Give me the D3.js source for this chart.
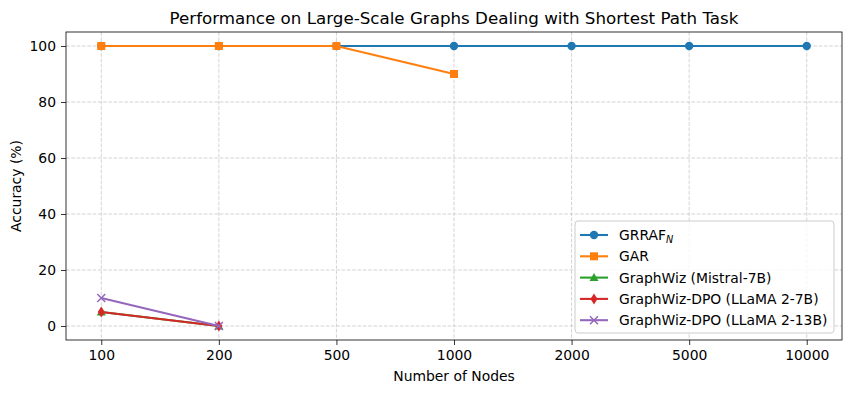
<!DOCTYPE html>
<html>
<head>
<meta charset="utf-8">
<script src="https://cdn.jsdelivr.net/npm/d3@7"></script>
<style>
  body { margin: 0; background: #fff; }
  text { font-family: "DejaVu Sans", sans-serif; fill: #000; }
</style>
</head>
<body>
<div id="chart"></div>
<script>
const categories = ['100', '200', '500', '1000', '2000', '5000', '10000'];
const grraf = [100, 100, 100, 100, 100, 100, 100];
const gar = [100, 100, 100, 90];
const graphwizMistral = [5, 0];
const dpo7b = [5, 0];
const dpo13b = [10, 0];
const yTicks = [0, 20, 40, 60, 80, 100];

const series = [
  { name: 'GRRAF', sub: 'N', values: grraf, color: '#1f77b4', marker: 'circle' },
  { name: 'GAR', values: gar, color: '#ff7f0e', marker: 'square' },
  { name: 'GraphWiz (Mistral-7B)', values: graphwizMistral, color: '#2ca02c', marker: 'triangle' },
  { name: 'GraphWiz-DPO (LLaMA 2-7B)', values: dpo7b, color: '#d62728', marker: 'diamond' },
  { name: 'GraphWiz-DPO (LLaMA 2-13B)', values: dpo13b, color: '#9467bd', marker: 'x' },
];

const width = 850, height = 393;
const margin = { top: 32, right: 8, bottom: 53, left: 66 };

const svg = d3.select('#chart').append('svg').attr('width', width).attr('height', height);

const x = d3.scaleLinear().domain([-0.3, categories.length - 1 + 0.3]).range([margin.left, width - margin.right]);
const y = d3.scaleLinear().domain([-5, 105]).range([height - margin.bottom, margin.top]);

// grid
const grid = svg.append('g').attr('stroke', '#c8c8c8').attr('stroke-dasharray', '3.7,1.6').attr('stroke-width', 0.8);
categories.forEach((c, i) => {
  grid.append('line').attr('x1', x(i)).attr('x2', x(i)).attr('y1', margin.top).attr('y2', height - margin.bottom);
});
yTicks.forEach((t) => {
  grid.append('line').attr('x1', margin.left).attr('x2', width - margin.right).attr('y1', y(t)).attr('y2', y(t));
});

// axes
const xAxis = d3.axisBottom(x).tickValues(d3.range(categories.length)).tickFormat((i) => categories[i]).tickSize(5).tickSizeOuter(0).tickPadding(5);
const yAxis = d3.axisLeft(y).tickValues(yTicks).tickSize(5).tickSizeOuter(0).tickPadding(5);

const gx = svg.append('g').attr('transform', `translate(0,${height - margin.bottom})`).call(xAxis);
const gy = svg.append('g').attr('transform', `translate(${margin.left},0)`).call(yAxis);
[gx, gy].forEach((g) => {
  g.select('.domain').remove();
  g.selectAll('.tick line').attr('stroke', '#000').attr('stroke-width', 0.8);
  g.selectAll('.tick text').style('font-size', '13.9px').attr('fill', '#000');
});

svg.append('rect')
  .attr('x', margin.left).attr('y', margin.top)
  .attr('width', width - margin.left - margin.right)
  .attr('height', height - margin.top - margin.bottom)
  .attr('fill', 'none').attr('stroke', '#000').attr('stroke-width', 0.8);

// markers
function drawMarker(g, type, color, cx, cy) {
  if (type === 'circle') {
    g.append('circle').attr('cx', cx).attr('cy', cy).attr('r', 4.2).attr('fill', color);
  } else if (type === 'square') {
    g.append('rect').attr('x', cx - 4).attr('y', cy - 4).attr('width', 8).attr('height', 8).attr('fill', color);
  } else if (type === 'triangle') {
    g.append('path').attr('d', `M${cx},${cy - 4.5}L${cx + 4.5},${cy + 3.5}L${cx - 4.5},${cy + 3.5}Z`).attr('fill', color);
  } else if (type === 'diamond') {
    g.append('path').attr('d', `M${cx},${cy - 5.5}L${cx + 3.5},${cy}L${cx},${cy + 5.5}L${cx - 3.5},${cy}Z`).attr('fill', color);
  } else if (type === 'x') {
    g.append('path').attr('d', `M${cx - 4},${cy - 4}L${cx + 4},${cy + 4}M${cx - 4},${cy + 4}L${cx + 4},${cy - 4}`)
      .attr('stroke', color).attr('stroke-width', 1.5).attr('fill', 'none');
  }
}

const line = d3.line().x((d, i) => x(i)).y((d) => y(d));

series.forEach((s) => {
  const g = svg.append('g');
  g.append('path').datum(s.values).attr('d', line).attr('fill', 'none').attr('stroke', s.color).attr('stroke-width', 2.1);
  s.values.forEach((v, i) => drawMarker(g, s.marker, s.color, x(i), y(v)));
});

// title and labels
svg.append('text').attr('x', (margin.left + width - margin.right) / 2).attr('y', 24)
  .attr('text-anchor', 'middle').style('font-size', '16.7px')
  .text('Performance on Large-Scale Graphs Dealing with Shortest Path Task');

svg.append('text').attr('x', (margin.left + width - margin.right) / 2).attr('y', 381)
  .attr('text-anchor', 'middle').style('font-size', '13.9px').text('Number of Nodes');

svg.append('text').attr('transform', `translate(21,${(margin.top + height - margin.bottom) / 2}) rotate(-90)`)
  .attr('text-anchor', 'middle').style('font-size', '13.9px').text('Accuracy (%)');

// legend
const lg = svg.append('g').attr('transform', 'translate(575,221)');
lg.append('rect').attr('width', 259).attr('height', 112).attr('rx', 3)
  .attr('fill', '#fff').attr('fill-opacity', 0.8).attr('stroke', '#cccccc');
series.forEach((s, i) => {
  const ly = 14 + i * 21.3;
  lg.append('line').attr('x1', 5).attr('x2', 33).attr('y1', ly).attr('y2', ly).attr('stroke', s.color).attr('stroke-width', 2.1);
  drawMarker(lg, s.marker, s.color, 19, ly);
  const t = lg.append('text').attr('x', 44).attr('y', ly + 5).style('font-size', '13.9px');
  t.append('tspan').text(s.name);
  if (s.sub) {
    t.append('tspan').attr('dy', 3).style('font-size', '9.7px').style('font-style', 'italic').text(s.sub);
  }
});
</script>
</body>
</html>
